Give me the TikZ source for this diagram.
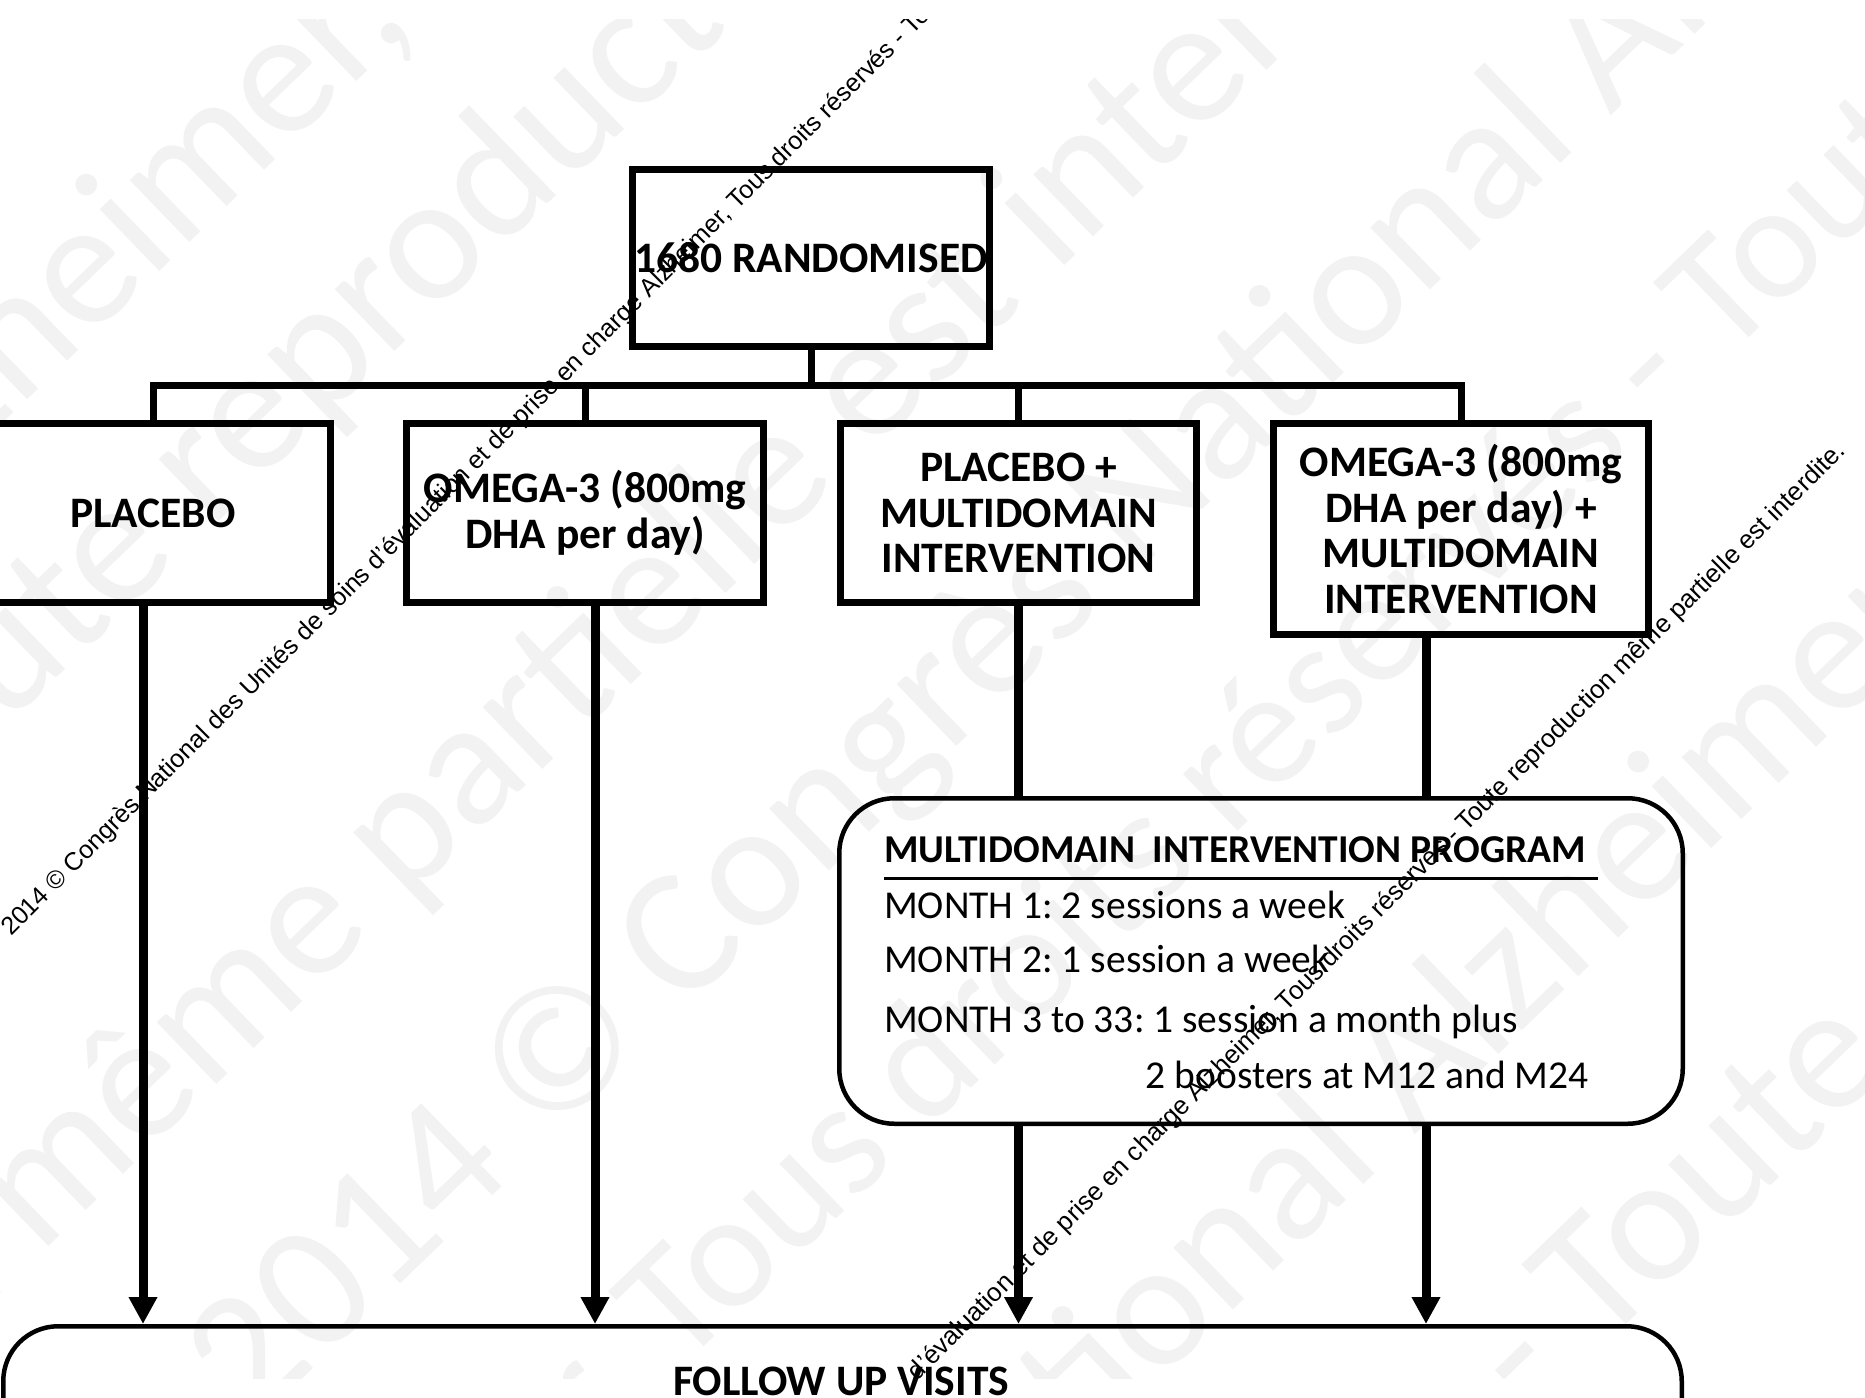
\documentclass[tikz,border=0pt]{standalone}
\usepackage{fontspec}
\setmainfont{Carlito}
\newfontfamily\wmfont{Liberation Sans}
\newfontfamily\wmbigfont{Carlito}
\usetikzlibrary{arrows.meta}
\definecolor{wmgray}{RGB}{242,242,242}
\newcommand{\wsp}{\hspace*{.226em}}
\frenchspacing
\begin{document}
\begin{tikzpicture}[x=1pt,y=-1pt,
  flowbox/.style={draw=black, line width=7pt, rectangle, inner sep=0pt, align=center,
    font=\fontsize{43.5}{45.7}\selectfont\bfseries},
  roundbox/.style={draw=black, line width=4.5pt, rectangle, rounded corners=55pt, inner sep=0pt},
  conn/.style={draw=black, line width=7pt, line join=miter},
  feed/.style={draw=black, line width=9pt},
  arr/.style={draw=black, line width=9pt, -{Triangle[length=27pt,width=27pt]}},
  body/.style={inner sep=0pt, font=\fontsize{39.5}{47}\selectfont},
  bodyb/.style={inner sep=0pt, font=\fontsize{39.5}{47}\selectfont\bfseries},
  futxt/.style={inner sep=0pt, font=\fontsize{43.5}{47}\selectfont\bfseries},
  wmbig/.style={inner sep=0pt, text=wmgray, rotate=44, font=\wmbigfont\fontsize{180}{180}\selectfont},
  wmbigc/.style={inner sep=0pt, text=wmgray, rotate=44, font=\wmbigfont\fontsize{165}{165}\selectfont},
  wmsmall/.style={inner sep=0pt, text=black, rotate=45, font=\wmfont\fontsize{25.2}{25.2}\selectfont},
  wmsmallb/.style={inner sep=0pt, text=black, rotate=45, font=\wmfont\fontsize{25.8}{25.8}\selectfont}
]
\useasboundingbox (0,0) rectangle (1865,1397);
\clip (0,0) rectangle (1865,1397);

% ---- faint large watermark ----
\begin{scope}
\clip (0,20) rectangle (1865,1378);
\node[wmbig, anchor=base east] (wa1) at (415,25) {2014 © Congrès National Alzheimer,};
\node[wmbig, anchor=base east] (wr1) at (210,530) {Tous droits réservés - Toute\wsp};
\node[wmbig, anchor=base west] (wr2) at (210,530) {reproduction même partielle};
\node[wmbig, anchor=base east] (wm1) at (39,1256) {Toute reproduction\wsp};
\node[wmbig, anchor=base west] (wm2) at (39,1256) {même partielle est interdite. 2014 ©};
\node[wmbig, anchor=base east] (wt1) at (253.5,1426.5) {même partielle est interdite.\wsp};
\node[wmbig, anchor=base west] (wt2) at (253.5,1426.5) {2014 © Congrès National Alzheimer, Tous};
\node[wmbigc, anchor=base east] (wd1) at (680,1370) {Congrès National Alzheimer,\wsp};
\node[wmbigc, anchor=base west] (wd2) at (680,1370) {Tous droits réservés - Toute reproduction};
\node[wmbig, anchor=base east] (we1) at (1414,1136) {2014 © Congrès National\wsp};
\node[wmbig, anchor=base west] (we2) at (1414,1136) {Alzheimer, Tous droits réservés};
\node[wmbig, anchor=base east] (wf1) at (1600,1350) {Tous droits réservés -\wsp};
\node[wmbig, anchor=base west] (wf2) at (1600,1350) {Toute reproduction même};
\end{scope}

% ---- boxes ----
\node[flowbox, minimum width=357pt, minimum height=177pt] (rand) at (811,258) {1680 RANDOMISED};
\node[flowbox, minimum width=355pt, minimum height=179pt] (plac) at (153,513) {PLACEBO};
\node[flowbox, minimum width=357pt, minimum height=179pt] (omega) at (585,513) {OMEGA-3 (800mg\\DHA per day)};
\node[flowbox, minimum width=356pt, minimum height=179pt] (pmi) at (1018.5,513) {PLACEBO +\\MULTIDOMAIN\\INTERVENTION};
\node[flowbox, minimum width=375pt, minimum height=211pt] (omi) at (1461,529) {OMEGA-3 (800mg\\DHA per day) +\\MULTIDOMAIN\\INTERVENTION};
\node[roundbox, minimum width=843.5pt, minimum height=325.5pt] (mi) at (1261,961) {};
\node[roundbox, minimum width=1678.5pt, minimum height=300pt] (fu) at (842.5,1476.25) {};

% ---- multidomain text ----
\node[bodyb, anchor=base west] (mititle) at (884,862) {MULTIDOMAIN~~INTERVENTION PROGRAM};
\draw[line width=3pt] ([yshift=-16pt]mititle.base west) -- ([yshift=-16pt,xshift=12pt]mititle.base east);
\node[body, anchor=base west] (m1) at (884,918) {MONTH 1: 2 sessions a week};
\node[body, anchor=base west] (m2) at (884,972) {MONTH 2: 1 session a week};
\node[body, anchor=base west] (m3) at (884,1032) {MONTH 3 to 33: 1 session a month plus};
\node[body, anchor=base east] (m4) at (1589,1088) {2 boosters at M12 and M24};

\node[futxt, anchor=base] (futext) at (841,1395) {FOLLOW UP VISITS};

% ---- connectors ----
\coordinate (bus) at (811,385.5);
\draw[conn] (rand.south) -- (bus);
\draw[conn] (plac.north) |- (bus) -| (omi.north);
\draw[conn] (omega.north) -- (omega.north |- bus);
\draw[conn] (pmi.north) -- (pmi.north |- bus);

\coordinate (pa) at ([xshift=-10pt]plac.south);
\coordinate (oa) at ([xshift=10pt]omega.south);
\coordinate (ob) at ([xshift=-35pt]omi.south);
\draw[arr] (pa) -- (pa |- fu.north);
\draw[arr] (oa) -- (oa |- fu.north);
\draw[feed] (pmi.south) -- (pmi.south |- mi.north);
\draw[arr] (mi.south -| pmi.south) -- (pmi.south |- fu.north);
\draw[feed] (ob) -- (ob |- mi.north);
\draw[arr] (mi.south -| ob) -- (ob |- fu.north);

% ---- small watermark ----
\begin{scope}
\clip (0,20) rectangle (1865,1378);
\node[wmsmall, anchor=base west] (ws1) at (11,937) {2014 © Congrès National des Unités de soins d’évaluation et de prise en charge Alzheimer, Tous droits réservés - Toute reproduction même partielle est interdite.};
\node[wmsmallb, anchor=base east] (ws2) at (1847,452) {2014 © Congrès National des Unités de soins d’évaluation et de prise en charge Alzheimer, Tous droits réservés - Toute reproduction même partielle est interdite.};
\end{scope}
\end{tikzpicture}
\end{document}
